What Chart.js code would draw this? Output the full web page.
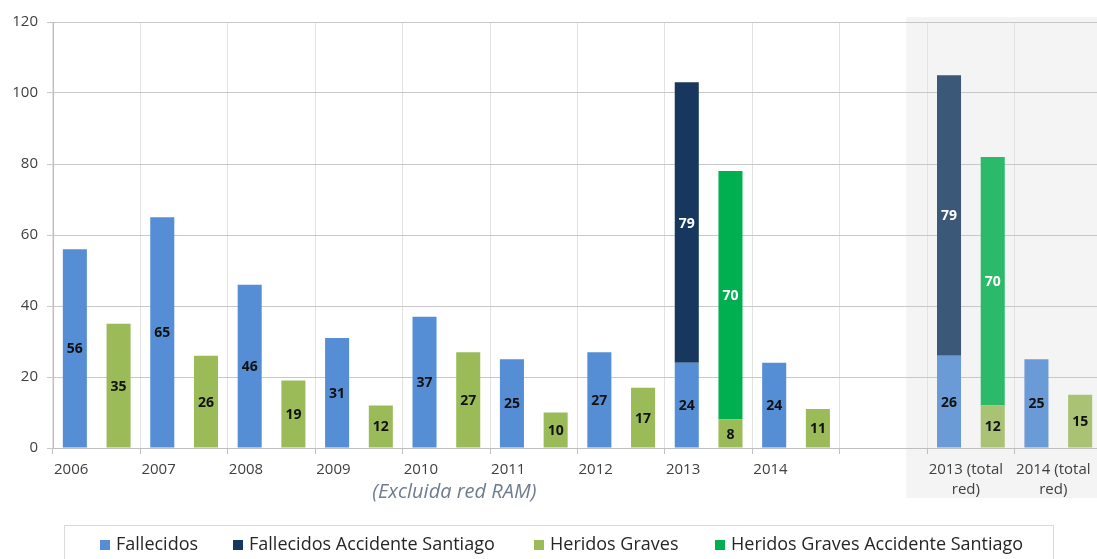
<!DOCTYPE html>
<html>
<head>
<meta charset="utf-8">
<script src="https://cdn.jsdelivr.net/npm/chart.js@4/dist/chart.umd.min.js"></script>
<style>
  html, body { margin: 0; padding: 0; background: #fff; overflow: hidden; }
  #wrap { position: relative; width: 1102px; height: 559px; }
</style>
</head>
<body>
<div id="wrap"><canvas id="chart"></canvas></div>
<script>
// categories: 9 years, an empty gap, then the two "total red" columns
const labels = ["2006", "2007", "2008", "2009", "2010", "2011", "2012", "2013", "2014", "",
  ["2013 (total", "red)"], ["2014 (total", "red)"]];
const fallecidos = [56, 65, 46, 31, 37, 25, 27, 24, 24, null, 26, 25];
const fallecidosSantiago = [null, null, null, null, null, null, null, 79, null, null, 79, null];
const heridos = [35, 26, 19, 12, 27, 10, 17, 8, 11, null, 12, 15];
const heridosSantiago = [null, null, null, null, null, null, null, 70, null, null, 70, null];
const yTicks = [0, 20, 40, 60, 80, 100, 120];
const note = "(Excluida red RAM)";

const FONT = "'Open Sans', sans-serif";
const firstTotal = 10; // index of "2013 (total red)"

// the total-red columns are drawn a bit paler in the original
function shade(normal, pale) {
  return labels.map((l, i) => (i >= firstTotal ? pale : normal));
}

const bandPlugin = {
  id: "band",
  beforeDraw(chart) {
    const { ctx, chartArea, scales } = chart;
    const x = scales.x;
    const catW = x.getPixelForValue(1) - x.getPixelForValue(0);
    const left = x.getPixelForValue(firstTotal) - catW / 2 - catW * 0.24;
    ctx.save();
    ctx.fillStyle = "#f4f4f4";
    ctx.fillRect(left, chartArea.top - 5, chart.width - left, chartArea.bottom - chartArea.top + 55);
    ctx.restore();
  },
};

const textPlugin = {
  id: "texts",
  afterDraw(chart) {
    const { ctx, chartArea, scales } = chart;
    const x = scales.x;
    const catW = x.getPixelForValue(1) - x.getPixelForValue(0);
    ctx.save();
    ctx.fillStyle = "#404040";
    ctx.font = "15px " + FONT;
    ctx.textBaseline = "middle";
    labels.forEach((l, i) => {
      const cx = x.getPixelForValue(i);
      if (Array.isArray(l)) {
        ctx.textAlign = "center";
        l.forEach((line, k) => ctx.fillText(line, cx - 5, chartArea.bottom + 22 + k * 20));
      } else if (l) {
        ctx.textAlign = "left";
        ctx.fillText(l, cx - catW / 2 + 1, chartArea.bottom + 22);
      }
    });
    // note under the axis
    ctx.font = "italic 20px " + FONT;
    ctx.fillStyle = "#6f7c8e";
    ctx.textAlign = "center";
    ctx.fillText(note, x.getPixelForValue(4) + 8, chartArea.bottom + 44);

    // legend with a frame
    ctx.strokeStyle = "#d9d9d9";
    ctx.lineWidth = 1;
    ctx.strokeRect(64.5, 525.5, 989, 50);
    const starts = [100, 233, 534, 715];
    ctx.font = "18px " + FONT;
    ctx.textAlign = "left";
    chart.data.datasets.forEach((ds, i) => {
      ctx.fillStyle = ds.legendColor;
      ctx.fillRect(starts[i], 540, 10, 10);
      ctx.fillStyle = "#262626";
      ctx.fillText(ds.label, starts[i] + 16, 545);
    });
    ctx.restore();
  },
};

const valuePlugin = {
  id: "values",
  afterDatasetsDraw(chart) {
    const { ctx } = chart;
    ctx.save();
    ctx.font = "bold 14px " + FONT;
    ctx.textAlign = "center";
    ctx.textBaseline = "middle";
    chart.data.datasets.forEach((ds, di) => {
      const meta = chart.getDatasetMeta(di);
      meta.data.forEach((bar, i) => {
        const v = ds.data[i];
        if (v == null) return;
        ctx.fillStyle = ds.valueColor;
        ctx.fillText(String(v), bar.x, (bar.y + bar.base) / 2 + 1);
      });
    });
    ctx.restore();
  },
};

window.onload = function () {
  const ctx = document.getElementById("chart").getContext("2d");

  const chart = new Chart(ctx, {
    type: "bar",
    data: {
      labels: labels,
      datasets: [
        {
          label: "Fallecidos",
          data: fallecidos,
          stack: "f",
          backgroundColor: shade("#558ed5", "#6b9bd6"),
          legendColor: "#558ed5",
          valueColor: "#111111",
        },
        {
          label: "Fallecidos Accidente Santiago",
          data: fallecidosSantiago,
          stack: "f",
          backgroundColor: shade("#17375e", "#3b5878"),
          legendColor: "#17375e",
          valueColor: "#ffffff",
        },
        {
          label: "Heridos Graves",
          data: heridos,
          stack: "h",
          backgroundColor: shade("#9bbb59", "#a9c274"),
          legendColor: "#9bbb59",
          valueColor: "#111111",
        },
        {
          label: "Heridos Graves Accidente Santiago",
          data: heridosSantiago,
          stack: "h",
          backgroundColor: shade("#00b050", "#2db96a"),
          legendColor: "#00b050",
          valueColor: "#ffffff",
        },
      ],
    },
    options: {
      responsive: true,
      maintainAspectRatio: false,
      animation: false,
      layout: { padding: { top: 22, bottom: 105, left: 0, right: 0 } },
      datasets: { bar: { barPercentage: 0.55, categoryPercentage: 1.0 } },
      plugins: { legend: { display: false }, tooltip: { enabled: false } },
      scales: {
        x: {
          stacked: true,
          offset: true,
          grid: { offset: true, color: "#e2e2e2", tickColor: "#bfbfbf", tickLength: 6 },
          border: { color: "#bfbfbf" },
          ticks: { display: false },
        },
        y: {
          stacked: true,
          min: 0,
          max: 120,
          afterBuildTicks: (scale) => {
            scale.ticks = yTicks.map((v) => ({ value: v }));
          },
          afterFit: (scale) => {
            scale.width = 53;
          },
          ticks: { color: "#404040", font: { family: FONT, size: 15 }, padding: 9 },
          grid: { color: "#c8c8c8", tickLength: 6 },
          border: { color: "#bfbfbf" },
        },
      },
    },
    plugins: [bandPlugin, valuePlugin, textPlugin],
  });
};
</script>
</body>
</html>
